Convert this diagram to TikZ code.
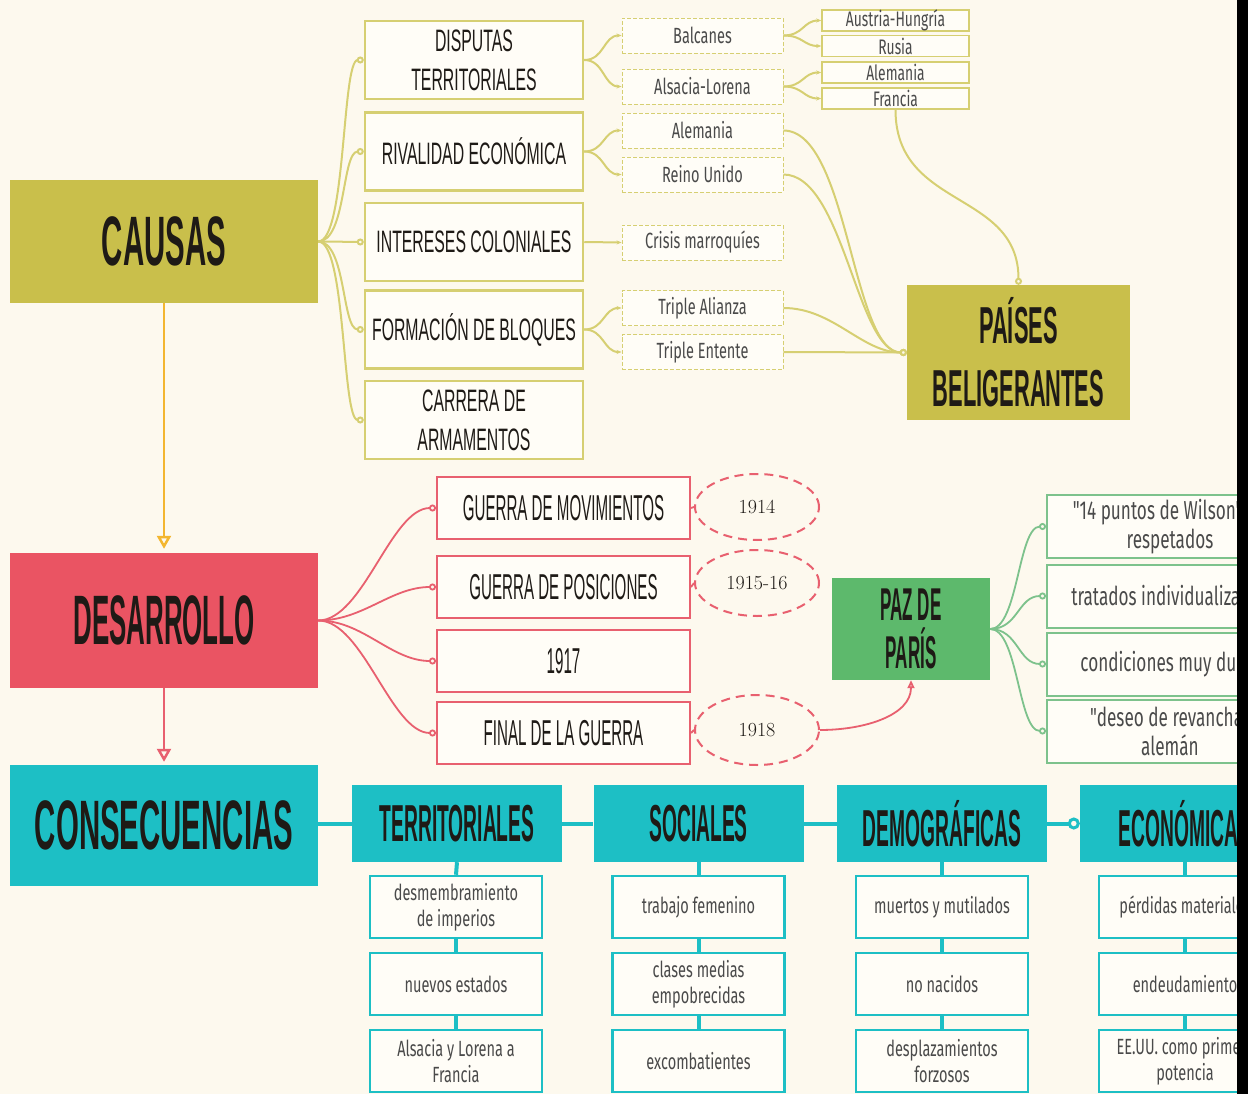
\documentclass[tikz,border=0pt]{standalone}
\usepackage{fontspec}
\usetikzlibrary{arrows.meta,shapes.geometric}
\newfontfamily\hA[FakeStretch=0.42]{Liberation Sans}
\newfontfamily\hB[FakeStretch=0.37]{Liberation Sans}
\newfontfamily\hC[FakeStretch=0.51]{Liberation Sans}
\newfontfamily\sA[FakeStretch=0.66]{Fira Sans}
\definecolor{bgc}{HTML}{FDF9EE}
\definecolor{boxfill}{HTML}{FFFDF7}
\definecolor{olive}{HTML}{C9BF4B}
\definecolor{olivel}{HTML}{D6CF72}
\definecolor{redfill}{HTML}{EA5463}
\definecolor{redl}{HTML}{E8606F}
\definecolor{greenfill}{HTML}{5DB96C}
\definecolor{greenl}{HTML}{7DC28C}
\definecolor{tealc}{HTML}{1DBFC5}
\definecolor{orangec}{HTML}{F3B630}
\definecolor{ink}{HTML}{1E1A16}
\definecolor{grayt}{HTML}{4A4A4A}
\tikzset{
  mainbox/.style={inner sep=0pt, minimum width=308pt, text=ink, align=center, font=\hA\bfseries\fontsize{70}{70}\selectfont},
  lvtwo/.style={draw=olivel, line width=2.5pt, fill=boxfill, minimum width=218pt, minimum height=78pt, inner sep=0pt, align=center, text=ink, font=\hC\fontsize{31}{39}\selectfont},
  lvthree/.style={draw=olivel, dash pattern=on 4pt off 2pt, line width=0.9pt, fill=boxfill, minimum width=161pt, minimum height=35pt, inner sep=0pt, text=grayt, font=\sA\fontsize{22}{24}\selectfont},
  lvfour/.style={draw=olivel, line width=1.5pt, fill=boxfill, minimum width=147pt, minimum height=21pt, inner sep=0pt, text=grayt, font=\sA\fontsize{21}{22}\selectfont},
  redbox/.style={draw=redl, line width=2pt, fill=boxfill, minimum width=253pt, minimum height=62pt, inner sep=0pt, text=ink, font=\hA\fontsize{36}{40}\selectfont},
  yearell/.style={ellipse, draw=redl, dash pattern=on 9pt off 6pt, line width=2pt, minimum width=124pt, minimum height=66pt, inner sep=0pt, text=ink, font=\rmfamily\fontsize{20}{22}\selectfont},
  greenbox/.style={draw=greenl, line width=2pt, fill=boxfill, minimum width=246pt, minimum height=63pt, inner sep=0pt, align=center, text=grayt, font=\sA\fontsize{26}{29}\selectfont},
  tealhead/.style={fill=tealc, minimum width=210pt, minimum height=77pt, inner sep=0pt, text=ink, font=\hB\bfseries\fontsize{52}{56}\selectfont},
  tealitem/.style={draw=tealc, line width=2.5pt, fill=boxfill, minimum width=172pt, minimum height=62pt, inner sep=0pt, align=center, text=grayt, font=\sA\fontsize{22}{26}\selectfont},
  olivecon/.style={draw=olivel, line width=2pt},
  cend/.style={-{Circle[open,length=7pt,width=7pt,fill=bgc]}},
  send/.style={-{Stealth[length=5pt,width=4pt]}},
  redcon/.style={draw=redl, line width=1.8pt},
  greencon/.style={draw=greenl, line width=1.8pt},
  tealcon/.style={draw=tealc, line width=4pt},
}
\begin{document}
\begin{tikzpicture}[x=1pt,y=-1pt]
\fill[bgc] (0,0) rectangle (1248,1094);
\useasboundingbox (0,0) rectangle (1248,1094);

% main boxes
\node[mainbox, fill=olive, minimum height=123pt] (causas) at (164,241.5) {CAUSAS};
\node[mainbox, fill=redfill, minimum height=135pt, font=\hB\bfseries\fontsize{70}{70}\selectfont] (desarrollo) at (164,620.5) {DESARROLLO};
\node[mainbox, fill=tealc, minimum height=121pt] (consec) at (164,825.5) {CONSECUENCIAS};

% main arrows
\draw[orangec, line width=2.5pt, shorten >=4pt, -{Triangle[open,length=13pt,width=14pt]}] (causas.south) -- (desarrollo.north);
\draw[redl, line width=2.5pt, shorten >=3pt, -{Triangle[open,length=13pt,width=14pt]}] (desarrollo.south) -- (consec.north);

% level 2 (causas)
\node[lvtwo] (disp) at (474,60) {DISPUTAS\\TERRITORIALES};
\node[lvtwo] (rival) at (474,151.5) {RIVALIDAD ECONÓMICA};
\node[lvtwo] (inter) at (474,242) {INTERESES COLONIALES};
\node[lvtwo] (form) at (474,329.5) {FORMACIÓN DE BLOQUES};
\node[lvtwo] (carr) at (474,420) {CARRERA DE\\ARMAMENTOS};

\foreach \t in {disp,rival,inter,form,carr}
  \draw[olivecon, cend] (causas.east) .. controls +(28,0) and +(-22,0) .. (\t.west);

% level 3
\node[lvthree] (balc) at (702.5,35.5) {Balcanes};
\node[lvthree] (alsl) at (702.5,86.5) {Alsacia-Lorena};
\node[lvthree] (alem) at (702.5,130.5) {Alemania};
\node[lvthree] (reino) at (702.5,174.5) {Reino Unido};
\node[lvthree] (crisis) at (702.5,242.5) {Crisis marroquíes};
\node[lvthree] (tali) at (702.5,308) {Triple Alianza};
\node[lvthree] (tent) at (702.5,352) {Triple Entente};

\draw[olivecon, send] (disp.east) .. controls +(20,0) and +(-18,0) .. (balc.west);
\draw[olivecon, send] (disp.east) .. controls +(20,0) and +(-18,0) .. (alsl.west);
\draw[olivecon, send] (rival.east) .. controls +(20,0) and +(-18,0) .. (alem.west);
\draw[olivecon, send] (rival.east) .. controls +(20,0) and +(-18,0) .. (reino.west);
\draw[olivecon, send] (inter.east) -- (crisis.west);
\draw[olivecon, send] (form.east) .. controls +(20,0) and +(-18,0) .. (tali.west);
\draw[olivecon, send] (form.east) .. controls +(20,0) and +(-18,0) .. (tent.west);

% level 4
\node[lvfour] (aust) at (895.5,20.5) {Austria-Hungría};
\node[lvfour] (rusia) at (895.5,46) {Rusia};
\node[lvfour] (alem2) at (895.5,72.5) {Alemania};
\node[lvfour] (fran) at (895.5,98.5) {Francia};

\draw[olivecon, send] (balc.east) .. controls +(20,0) and +(-18,0) .. (aust.west);
\draw[olivecon, send] (balc.east) .. controls +(20,0) and +(-18,0) .. (rusia.west);
\draw[olivecon, send] (alsl.east) .. controls +(20,0) and +(-18,0) .. (alem2.west);
\draw[olivecon, send] (alsl.east) .. controls +(20,0) and +(-18,0) .. (fran.west);

% paises beligerantes
\node[fill=olive, minimum width=223pt, minimum height=135pt, inner sep=0pt, align=center, text=ink, font=\hA\bfseries\fontsize{52}{63}\selectfont] (paises) at (1018.5,352.5) {PAÍSES\\BELIGERANTES};

\draw[olivecon, cend] (fran.south) .. controls +(0,100) and +(0,-95) .. (paises.north);
\draw[olivecon, cend] (alem.east) .. controls +(65,0) and +(-55,0) .. (paises.west);
\draw[olivecon, cend] (reino.east) .. controls +(60,0) and +(-50,0) .. (paises.west);
\draw[olivecon, cend] (tali.east) .. controls +(50,0) and +(-45,0) .. (paises.west);
\draw[olivecon, cend] (tent.east) -- (paises.west);

% desarrollo children
\node[redbox] (movi) at (563.5,508) {GUERRA DE MOVIMIENTOS};
\node[redbox] (posi) at (563.5,587) {GUERRA DE POSICIONES};
\node[redbox] (y1917) at (563.5,661) {1917};
\node[redbox] (final) at (563.5,733) {FINAL DE LA GUERRA};

\foreach \t in {movi,posi,y1917,final}
  \draw[redcon, cend] (desarrollo.east) .. controls +(45,0) and +(-45,0) .. (\t.west);

\node[yearell] (e1914) at (757,507) {1914};
\node[yearell] (e1915) at (757,583) {1915-16};
\node[yearell, minimum height=70pt] (e1918) at (757,730) {1918};

\draw[redcon] (movi.east) -- (e1914.west);
\draw[redcon] (posi.east) -- (e1915.west);
\draw[redcon] (final.east) -- (e1918.west);

% paz de paris
\node[fill=greenfill, minimum width=158pt, minimum height=102pt, inner sep=0pt, align=center, text=ink, font=\hB\bfseries\fontsize{46}{48}\selectfont] (paz) at (911,629) {PAZ DE\\PARÍS};

\draw[redcon, -{Triangle[open,length=8pt,width=7pt]}] (e1918.east) .. controls +(45,0) and +(0,35) .. (paz.south);

\node[greenbox] (wil) at (1170,526.5) {"14 puntos de Wilson" no\\respetados};
\node[greenbox] (trat) at (1170,596) {tratados individualizados};
\node[greenbox] (cond) at (1170,664) {condiciones muy duras};
\node[greenbox] (rev) at (1170,731) {"deseo de revancha"\\alemán};

\foreach \t in {wil,trat,cond,rev}
  \draw[greencon, cend] (paz.east) .. controls +(28,0) and +(-28,0) .. (\t.west);

% consecuencias
\node[tealhead] (terr) at (457,823.5) {TERRITORIALES};
\node[tealhead] (soc) at (698.5,823.5) {SOCIALES};
\node[tealhead] (demo) at (942,823.5) {DEMOGRÁFICAS};
\node[tealhead] (econ) at (1185,823.5) {ECONÓMICAS};

\draw[tealcon] (consec.east |- terr.west) -- (terr.west);
\draw[tealcon] (terr.east) -- (soc.west);
\draw[tealcon] (soc.east) -- (demo.west);
\draw[tealcon, -{Circle[open,length=12pt,width=12pt,fill=bgc,line width=3pt]}] (demo.east) -- (econ.west);

\node[tealitem] (t1) at (456,907) {desmembramiento\\de imperios};
\node[tealitem] (t2) at (456,984) {nuevos estados};
\node[tealitem] (t3) at (456,1061) {Alsacia y Lorena a\\Francia};
\node[tealitem] (s1) at (698.5,907) {trabajo femenino};
\node[tealitem] (s2) at (698.5,984) {clases medias\\empobrecidas};
\node[tealitem] (s3) at (698.5,1061) {excombatientes};
\node[tealitem] (d1) at (942,907) {muertos y mutilados};
\node[tealitem] (d2) at (942,984) {no nacidos};
\node[tealitem] (d3) at (942,1061) {desplazamientos\\forzosos};
\node[tealitem] (c1) at (1185,907) {pérdidas materiales};
\node[tealitem] (c2) at (1185,984) {endeudamiento};
\node[tealitem] (c3) at (1185,1061) {EE.UU. como primera\\potencia};

\draw[tealcon] (terr.south) -- (t1.north);
\draw[tealcon] (t1.south) -- (t2.north);
\draw[tealcon] (t2.south) -- (t3.north);
\draw[tealcon] (soc.south) -- (s1.north);
\draw[tealcon] (s1.south) -- (s2.north);
\draw[tealcon] (s2.south) -- (s3.north);
\draw[tealcon] (demo.south) -- (d1.north);
\draw[tealcon] (d1.south) -- (d2.north);
\draw[tealcon] (d2.south) -- (d3.north);
\draw[tealcon] (econ.south) -- (c1.north);
\draw[tealcon] (c1.south) -- (c2.north);
\draw[tealcon] (c2.south) -- (c3.north);

% right black edge
\fill[black] (1237,0) rectangle (1248,1094);
\end{tikzpicture}
\end{document}
